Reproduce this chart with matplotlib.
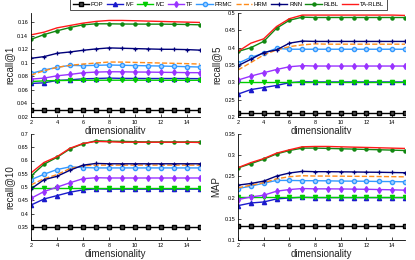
import numpy as np
import matplotlib
matplotlib.use('Agg')
import matplotlib.pyplot as plt

# dimensionality
dims = list(range(2, 16))

methods = ['POP', 'MF', 'MC', 'TF', 'PRMC', 'HRM', 'RNN', 'RLBL', 'TA-RLBL']

# recall@1
r1 = {
    'POP':     [0.030]*14,
    'MF':      [0.0697, 0.0706, 0.0741, 0.0750, 0.0766, 0.0770, 0.0776, 0.0772, 0.0771, 0.0770, 0.0770, 0.0770, 0.0769, 0.0768],
    'MC':      [0.0725, 0.0735, 0.0740, 0.0742, 0.0744, 0.0745, 0.0745, 0.0745, 0.0745, 0.0745, 0.0744, 0.0744, 0.0744, 0.0744],
    'TF':      [0.0761, 0.0776, 0.0810, 0.0830, 0.0855, 0.0865, 0.0870, 0.0869, 0.0866, 0.0865, 0.0862, 0.0860, 0.0857, 0.0856],
    'PRMC':    [0.0845, 0.0895, 0.0935, 0.0965, 0.0960, 0.0965, 0.0970, 0.0966, 0.0962, 0.0958, 0.0955, 0.0950, 0.0945, 0.0940],
    'HRM':     [0.0820, 0.0885, 0.0935, 0.0965, 0.0984, 0.0999, 0.1014, 0.1013, 0.1008, 0.1004, 0.0999, 0.0995, 0.0990, 0.0984],
    'RNN':     [0.1069, 0.1094, 0.1143, 0.1163, 0.1188, 0.1208, 0.1223, 0.1218, 0.1213, 0.1208, 0.1203, 0.1202, 0.1198, 0.1190],
    'RLBL':    [0.1350, 0.1420, 0.1476, 0.1525, 0.1565, 0.1580, 0.1580, 0.1577, 0.1576, 0.1575, 0.1575, 0.1573, 0.1570, 0.1565],
    'TA-RLBL': [0.1416, 0.1456, 0.1520, 0.1555, 0.1590, 0.1615, 0.1630, 0.1630, 0.1625, 0.1620, 0.1615, 0.1610, 0.1605, 0.1600],
}

# recall@5
r5 = {
    'POP':     [0.211]*14,
    'MF':      [0.266, 0.279, 0.285, 0.291, 0.299, 0.3016, 0.301, 0.301, 0.301, 0.301, 0.301, 0.301, 0.301, 0.301],
    'MC':      [0.302]*14,
    'TF':      [0.3065, 0.318, 0.3277, 0.337, 0.345, 0.348, 0.347, 0.347, 0.347, 0.347, 0.347, 0.347, 0.347, 0.347],
    'PRMC':    [0.355, 0.372, 0.384, 0.398, 0.3955, 0.3955, 0.3955, 0.3955, 0.3955, 0.3955, 0.3955, 0.3955, 0.3955, 0.3955],
    'HRM':     [0.3355, 0.357, 0.379, 0.3935, 0.403, 0.408, 0.411, 0.410, 0.410, 0.410, 0.410, 0.410, 0.410, 0.410],
    'RNN':     [0.348, 0.3665, 0.386, 0.3935, 0.413, 0.419, 0.418, 0.418, 0.418, 0.418, 0.418, 0.418, 0.418, 0.418],
    'RLBL':    [0.389, 0.400, 0.418, 0.456, 0.479, 0.488, 0.487, 0.487, 0.487, 0.487, 0.487, 0.487, 0.487, 0.487],
    'TA-RLBL': [0.389, 0.413, 0.4255, 0.461, 0.4835, 0.494, 0.494, 0.494, 0.494, 0.494, 0.494, 0.494, 0.494, 0.493],
}

# recall@10
r10 = {
    'POP':     [0.350]*14,
    'MF':      [0.4318, 0.4547, 0.4675, 0.4803, 0.4892, 0.493, 0.492, 0.492, 0.492, 0.492, 0.492, 0.492, 0.492, 0.492],
    'MC':      [0.497]*14,
    'TF':      [0.4573, 0.4828, 0.4995, 0.516, 0.5314, 0.535, 0.534, 0.534, 0.534, 0.534, 0.534, 0.534, 0.534, 0.534],
    'PRMC':    [0.5275, 0.548, 0.5659, 0.576, 0.5735, 0.572, 0.572, 0.572, 0.572, 0.572, 0.572, 0.572, 0.572, 0.572],
    'HRM':     [0.508, 0.5314, 0.5467, 0.5697, 0.580, 0.5825, 0.5825, 0.5825, 0.5825, 0.5825, 0.5825, 0.5825, 0.5825, 0.5825],
    'RNN':     [0.493, 0.5275, 0.5403, 0.5633, 0.5825, 0.5889, 0.5876, 0.5876, 0.5876, 0.5876, 0.5876, 0.5876, 0.5876, 0.5876],
    'RLBL':    [0.5416, 0.586, 0.6119, 0.6438, 0.663, 0.6745, 0.673, 0.672, 0.671, 0.670, 0.670, 0.670, 0.670, 0.670],
    'TA-RLBL': [0.553, 0.5927, 0.6144, 0.6463, 0.6642, 0.672, 0.6706, 0.669, 0.669, 0.669, 0.669, 0.669, 0.669, 0.668],
}

# MAP
rmap = {
    'POP':     [0.133]*14,
    'MF':      [0.181, 0.1873, 0.1897, 0.1968, 0.1992, 0.2008, 0.200, 0.200, 0.200, 0.200, 0.200, 0.200, 0.200, 0.200],
    'MC':      [0.2008]*14,
    'TF':      [0.1952, 0.2016, 0.2056, 0.2151, 0.219, 0.2214, 0.2206, 0.2206, 0.2204, 0.2200, 0.2196, 0.2190, 0.2184, 0.2175],
    'PRMC':    [0.2214, 0.227, 0.234, 0.2405, 0.2405, 0.240, 0.2398, 0.2395, 0.239, 0.2388, 0.2385, 0.238, 0.2378, 0.2373],
    'HRM':     [0.223, 0.2294, 0.235, 0.2444, 0.2492, 0.2516, 0.2508, 0.2508, 0.2505, 0.2502, 0.250, 0.2497, 0.2494, 0.249],
    'RNN':     [0.2294, 0.2333, 0.2389, 0.2508, 0.258, 0.2619, 0.2611, 0.2611, 0.2608, 0.2605, 0.260, 0.2597, 0.2592, 0.2587],
    'RLBL':    [0.270, 0.280, 0.2905, 0.303, 0.311, 0.3167, 0.3167, 0.316, 0.3152, 0.3144, 0.3136, 0.3128, 0.312, 0.311],
    'TA-RLBL': [0.2706, 0.2825, 0.292, 0.3048, 0.3127, 0.3198, 0.3206, 0.3206, 0.3198, 0.3190, 0.3183, 0.3175, 0.3167, 0.3159],
}

styles = {
    'POP':     dict(color='black', marker='s', ms=2.6, mfc='#444444'),
    'MF':      dict(color='#1a1acc', marker='^', ms=3),
    'MC':      dict(color='#00cc00', marker='v', ms=3),
    'TF':      dict(color='#9933ff', marker='d', ms=3),
    'PRMC':    dict(color='#3399ff', marker='o', ms=3, mfc='#a8d4ff'),
    'HRM':     dict(color='#ff8c1a', linestyle='--'),
    'RNN':     dict(color='#00007a', marker='+', ms=3.5, mew=0.9),
    'RLBL':    dict(color='#118811', marker='o', ms=2.2),
    'TA-RLBL': dict(color='#ff1a1a'),
}

panels = [
    (r1, 'recall@1', (0.02, 0.174), [0.02, 0.04, 0.06, 0.08, 0.1, 0.12, 0.14, 0.16], ['0.02', '0.04', '0.06', '0.08', '0.1', '0.12', '0.14', '0.16']),
    (r5, 'recall@5', (0.2, 0.5), [0.2, 0.25, 0.3, 0.35, 0.4, 0.45, 0.5], ['0.2', '0.25', '0.3', '0.35', '0.4', '0.45', '0.5']),
    (r10, 'recall@10', (0.3, 0.7), [0.35, 0.4, 0.45, 0.5, 0.55, 0.6, 0.65, 0.7], ['0.35', '0.4', '0.45', '0.5', '0.55', '0.6', '0.65', '0.7']),
    (rmap, 'MAP', (0.1, 0.35), [0.1, 0.15, 0.2, 0.25, 0.3, 0.35], ['0.1', '0.15', '0.2', '0.25', '0.3', '0.35']),
]

W, H = 415, 260
fig = plt.figure(figsize=(W / 100, H / 100), dpi=100)
plt.rcParams['font.family'] = 'Liberation Sans'

# axes boxes in pixels: left, right, top, bottom
boxes = [(31, 200, 13, 117), (238, 405, 13, 117), (31, 200, 134, 240), (238, 405, 134, 240)]

handles = []
for i, (data, ylab, ylim, yt, ytl) in enumerate(panels):
    l, r, t, b = boxes[i]
    ax = fig.add_axes([l / W, (H - b) / H, (r - l) / W, (b - t) / H])
    for m in methods:
        ln, = ax.plot(dims, data[m], lw=1.0, **styles[m])
        if i == 0:
            handles.append(ln)
    ax.set_xlim(2, 15)
    ax.set_ylim(*ylim)
    ax.set_xticks([2, 4, 6, 8, 10, 12, 14])
    ax.set_yticks(yt)
    ax.set_yticklabels(ytl)
    ax.tick_params(labelsize=4, direction='in', length=2, width=0.5, pad=2)
    ax.spines['top'].set_visible(False)
    ax.spines['right'].set_visible(False)
    ax.spines['left'].set_linewidth(0.6)
    ax.spines['bottom'].set_linewidth(0.6)
    ax.set_xlabel('dimensionality', fontsize=7, labelpad=1, color='#222222')
    ax.set_ylabel(ylab, fontsize=7, labelpad=2, color='#222222')

leg = fig.legend(handles, methods, loc='lower left', bbox_to_anchor=(70 / W, (H - 9.5) / H),
                 ncol=9, fontsize=4.3, frameon=True, fancybox=False, edgecolor='black',
                 handlelength=2.75, columnspacing=0.55, handletextpad=0.3, borderpad=0.45,
                 borderaxespad=0)
leg.get_frame().set_linewidth(0.6)

fig.savefig('out.png', dpi=100)
